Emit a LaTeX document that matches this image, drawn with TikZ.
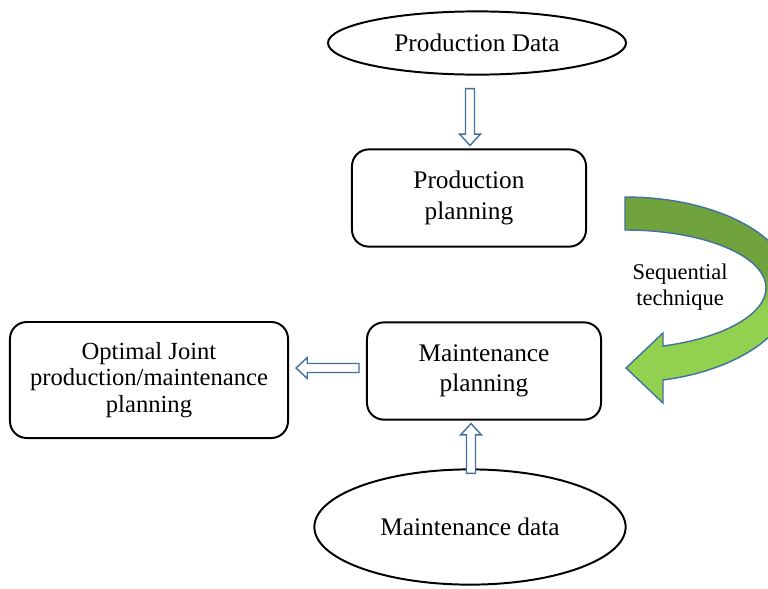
\documentclass[tikz,border=0pt]{standalone}
\usepackage{fontspec}
\setmainfont{Liberation Serif}
\usetikzlibrary{shapes.geometric, calc}
\definecolor{arrowblue}{RGB}{65,113,156}
\definecolor{seqdark}{RGB}{112,162,62}
\definecolor{seqlight}{RGB}{146,208,80}
\pgfdeclareverticalshading{seqshade}{100bp}{color(0bp)=(seqlight); color(48bp)=(seqlight); color(56bp)=(seqdark); color(100bp)=(seqdark)}

\begin{document}
\begin{tikzpicture}[
    x=0.025cm, y=-0.025cm,
    every node/.style={align=center, font=\fontsize{18}{21.5}\selectfont},
    databox/.style={draw, ellipse, line width=1.4pt, inner sep=0pt},
    planbox/.style={draw, rectangle, rounded corners=0.42cm, line width=1.4pt, minimum width=5.85cm, minimum height=2.43cm},
    hollowarrow/.style={draw=arrowblue, fill=white, line width=1pt, line join=miter, to path={
        ($(\tikztostart)!3.2pt!90:(\tikztotarget)$)
        -- ($(\tikztotarget)!8pt!(\tikztostart)!3.2pt!90:(\tikztotarget)$)
        -- ($(\tikztotarget)!8pt!(\tikztostart)!7.4pt!90:(\tikztotarget)$)
        -- (\tikztotarget)
        -- ($(\tikztotarget)!8pt!(\tikztostart)!7.4pt!-90:(\tikztotarget)$)
        -- ($(\tikztotarget)!8pt!(\tikztostart)!3.2pt!-90:(\tikztotarget)$)
        -- ($(\tikztostart)!3.2pt!-90:(\tikztotarget)$) -- cycle}}
]
\useasboundingbox (0,0) rectangle (768,588);
\node[databox, minimum width=7.45cm, minimum height=1.58cm] (pdata) at (477,43) {Production Data};
\node[planbox] (pplan) at (469,198) {Production\\planning};
\node[planbox] (mplan) at (484,371) {Maintenance\\planning};
\node[planbox, minimum width=6.95cm, minimum height=2.9cm, font=\fontsize{17.5}{18.6}\selectfont] (joint) at (149,380) {Optimal Joint\\production/maintenance\\planning};
\node[databox, minimum width=7.78cm, minimum height=2.88cm] (mdata) at (470,527) {Maintenance data};
\node[font=\fontsize{16}{18.5}\selectfont] (seqlabel) at (680,287) {Sequential\\technique};

\draw[hollowarrow] ($(pdata.south)+(-7,13)$) to ($(pplan.north)+(1,-3)$);
\draw[hollowarrow] ($(mplan.west)+(-7,-3)$) to ($(joint.east)+(7,-12)$);
\draw[hollowarrow] ($(mdata.north)+(1,5)$) to ($(mplan.south)+(-13,3)$);

% curved arrow from production planning down to maintenance planning
\begin{scope}
\clip (0,0) rectangle (768,588);
\draw[arrowblue, line width=1pt, shading=seqshade]
  (625,197) .. controls (719,197) and (793,238) .. (793,289)
  .. controls (793,332) and (739,370) .. (663,380)
  -- (663,403) -- (626,368) -- (663,333) -- (663,346)
  .. controls (724,338) and (766,314) .. (766,288)
  .. controls (766,256) and (704,230) .. (625,230) -- cycle;
\end{scope}
\end{tikzpicture}
\end{document}
